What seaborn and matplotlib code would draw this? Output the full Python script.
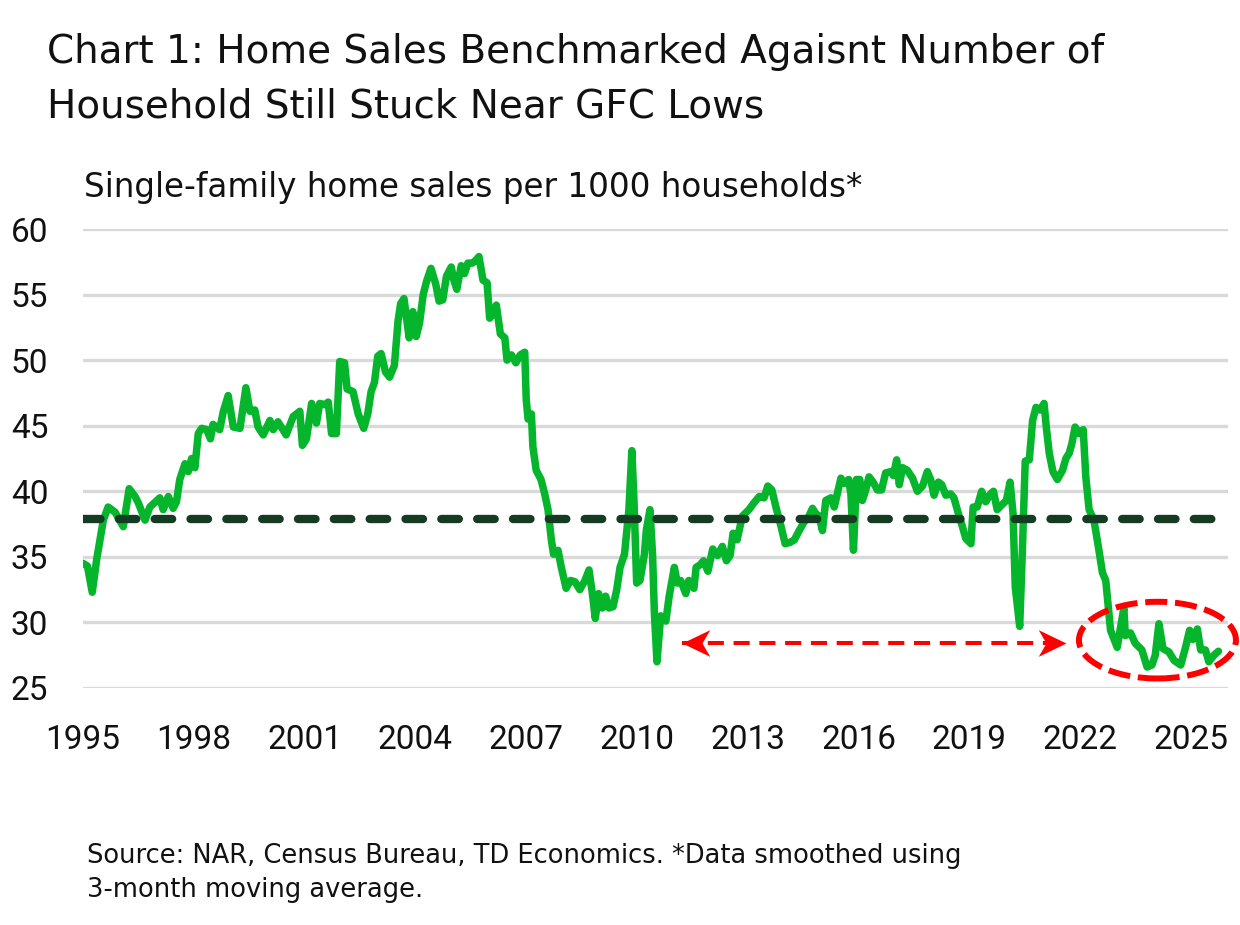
import numpy as np
import pandas as pd
import matplotlib
matplotlib.use("Agg")
import matplotlib.pyplot as plt
import seaborn as sns
from matplotlib.patches import Ellipse
from matplotlib.path import Path

# ---------------- data ----------------
dates = [
    1995.00, 1995.12, 1995.25, 1995.37, 1995.55, 1995.68, 1995.87, 1996.09, 1996.25, 1996.41,
    1996.50, 1996.68, 1996.81, 1997.08, 1997.17, 1997.31, 1997.44, 1997.53, 1997.62, 1997.76,
    1997.85, 1997.94, 1998.03, 1998.12, 1998.21, 1998.35, 1998.45, 1998.52, 1998.70, 1998.80,
    1998.93, 1999.07, 1999.25, 1999.41, 1999.52, 1999.65, 1999.74, 1999.88, 2000.06, 2000.15,
    2000.28, 2000.50, 2000.69, 2000.87, 2000.94, 2001.05, 2001.19, 2001.32, 2001.41, 2001.55,
    2001.64, 2001.73, 2001.86, 2001.95, 2002.08, 2002.15, 2002.31, 2002.45, 2002.60, 2002.71,
    2002.80, 2002.89, 2002.98, 2003.07, 2003.19, 2003.30, 2003.43, 2003.53, 2003.60, 2003.69,
    2003.83, 2003.93, 2004.02, 2004.11, 2004.21, 2004.30, 2004.42, 2004.55, 2004.64, 2004.74,
    2004.84, 2004.97, 2005.03, 2005.12, 2005.24, 2005.33, 2005.42, 2005.54, 2005.63, 2005.72,
    2005.83, 2005.94, 2006.01, 2006.10, 2006.19, 2006.30, 2006.42, 2006.48, 2006.60, 2006.72,
    2006.84, 2006.96, 2007.00, 2007.05, 2007.14, 2007.18, 2007.27, 2007.40, 2007.50, 2007.59,
    2007.68, 2007.74, 2007.86, 2007.95, 2008.08, 2008.20, 2008.32, 2008.45, 2008.59, 2008.70,
    2008.79, 2008.87, 2008.96, 2009.06, 2009.15, 2009.24, 2009.35, 2009.45, 2009.54, 2009.66,
    2009.78, 2009.86, 2009.92, 2009.99, 2010.08, 2010.20, 2010.25, 2010.35, 2010.42, 2010.47,
    2010.54, 2010.64, 2010.78, 2010.87, 2011.01, 2011.09, 2011.18, 2011.32, 2011.40, 2011.54,
    2011.60, 2011.71, 2011.80, 2011.92, 2012.05, 2012.18, 2012.31, 2012.42, 2012.52, 2012.60,
    2012.71, 2012.85, 2013.03, 2013.16, 2013.31, 2013.44, 2013.54, 2013.65, 2013.76, 2013.90,
    2014.01, 2014.14, 2014.26, 2014.39, 2014.53, 2014.62, 2014.75, 2014.84, 2014.93, 2015.02,
    2015.11, 2015.25, 2015.34, 2015.52, 2015.61, 2015.73, 2015.79, 2015.86, 2015.94, 2016.03,
    2016.10, 2016.19, 2016.28, 2016.39, 2016.51, 2016.62, 2016.73, 2016.87, 2016.94, 2017.03,
    2017.10, 2017.19, 2017.32, 2017.46, 2017.59, 2017.73, 2017.86, 2017.95, 2018.04, 2018.16,
    2018.25, 2018.36, 2018.49, 2018.58, 2018.70, 2018.81, 2018.90, 2019.04, 2019.10, 2019.21,
    2019.33, 2019.44, 2019.57, 2019.65, 2019.75, 2019.89, 2020.00, 2020.10, 2020.18, 2020.24,
    2020.36, 2020.43, 2020.51, 2020.62, 2020.71, 2020.80, 2020.91, 2021.02, 2021.08, 2021.16,
    2021.26, 2021.38, 2021.52, 2021.61, 2021.70, 2021.77, 2021.86, 2021.97, 2022.08, 2022.15,
    2022.24, 2022.37, 2022.50, 2022.60, 2022.69, 2022.82, 2023.00, 2023.18, 2023.22, 2023.36,
    2023.49, 2023.67, 2023.81, 2023.94, 2024.03, 2024.13, 2024.24, 2024.40, 2024.54, 2024.72,
    2024.85, 2024.96, 2025.05, 2025.17, 2025.26, 2025.39, 2025.48, 2025.62, 2025.74,
]
sales_per_1000 = [
    34.5, 34.3, 32.3, 34.8, 37.8, 38.8, 38.4, 37.3, 40.2, 39.6,
    39.1, 37.8, 38.8, 39.5, 38.6, 39.6, 38.7, 39.2, 40.9, 42.1,
    41.5, 42.5, 41.8, 44.4, 44.8, 44.7, 44.0, 45.1, 44.7, 46.1,
    47.3, 44.9, 44.8, 47.9, 46.1, 46.2, 44.9, 44.3, 45.4, 44.7,
    45.3, 44.3, 45.7, 46.1, 43.5, 44.0, 46.7, 45.2, 46.7, 46.6,
    46.8, 44.4, 44.4, 49.9, 49.8, 47.8, 47.6, 45.9, 44.8, 45.9,
    47.6, 48.3, 50.3, 50.5, 49.1, 48.7, 49.6, 53.0, 54.3, 54.7,
    51.7, 53.7, 51.8, 52.8, 55.0, 56.0, 57.0, 55.8, 54.5, 54.6,
    56.4, 57.1, 56.2, 55.4, 57.2, 56.6, 57.4, 57.4, 57.6, 57.9,
    56.1, 55.9, 53.2, 53.5, 54.2, 52.0, 51.7, 50.0, 50.4, 49.8,
    50.4, 50.6, 47.0, 45.5, 45.9, 43.4, 41.6, 40.9, 39.8, 38.6,
    36.3, 35.2, 35.5, 34.2, 32.6, 33.2, 33.1, 32.5, 33.2, 34.0,
    32.2, 30.3, 32.2, 31.1, 32.0, 31.1, 31.2, 32.5, 34.2, 35.2,
    38.6, 43.1, 39.1, 33.0, 33.2, 35.2, 37.0, 38.6, 35.2, 30.7,
    27.0, 30.5, 30.1, 32.0, 34.2, 33.0, 33.2, 32.2, 33.2, 32.6,
    34.2, 34.4, 34.7, 33.9, 35.6, 35.1, 35.8, 34.7, 35.1, 36.8,
    36.3, 38.1, 38.6, 39.1, 39.6, 39.5, 40.4, 40.1, 38.8, 37.3,
    36.0, 36.1, 36.3, 37.0, 37.7, 37.9, 38.7, 38.3, 38.1, 37.0,
    39.3, 39.5, 38.8, 41.0, 40.6, 40.9, 39.8, 35.5, 40.9, 40.9,
    39.3, 40.1, 41.1, 40.7, 40.1, 40.1, 41.4, 41.5, 41.2, 42.4,
    40.5, 41.8, 41.6, 41.0, 40.0, 40.4, 41.5, 40.9, 39.7, 40.7,
    40.5, 39.7, 39.8, 39.5, 38.3, 37.3, 36.4, 36.0, 38.8, 38.8,
    40.0, 39.2, 39.8, 40.0, 38.6, 39.0, 39.3, 40.7, 38.3, 32.7,
    29.7, 35.2, 42.3, 42.4, 45.4, 46.4, 46.2, 46.7, 44.9, 42.9,
    41.5, 40.9, 41.6, 42.5, 42.9, 43.6, 44.9, 44.4, 44.7, 41.1,
    38.6, 37.8, 35.6, 33.8, 33.2, 29.4, 28.1, 31.1, 29.0, 29.2,
    28.4, 27.9, 26.6, 26.75, 27.5, 29.9, 28.0, 27.75, 27.1, 26.75,
    28.1, 29.4, 28.7, 29.5, 27.9, 27.9, 27.0, 27.5, 27.8,
]
average_level = 37.9
y_ticks = [25, 30, 35, 40, 45, 50, 55, 60]
x_ticks = [1995, 1998, 2001, 2004, 2007, 2010, 2013, 2016, 2019, 2022, 2025]
x_tick_labels = [str(t) for t in x_ticks]
arrow_x = [2011.22, 2021.61]
arrow_y = 28.4
ellipse_center = (2024.09, 28.65)
ellipse_width = 4.25
ellipse_height = 5.85

title_lines = ["Chart 1: Home Sales Benchmarked Agaisnt Number of",
               "Household Still Stuck Near GFC Lows"]
subtitle = "Single-family home sales per 1000 households*"
source_lines = ["Source: NAR, Census Bureau, TD Economics. *Data smoothed using",
                "3-month moving average."]

# ---------------- styling ----------------
GREEN = "#05B52B"
DARK = "#163B23"
RED = "#FF0000"
GRID = "#D9D9D9"
TEXT = "#111111"

sns.set_theme(style="white")
plt.rcParams['font.family'] = ['Roboto', 'DejaVu Sans']
WIDE = ['DejaVu Sans']

W, H = 1240, 925
fig = plt.figure(figsize=(W / 100, H / 100), dpi=100)
ax = fig.add_axes([83 / W, 1 - 688 / H, 1145 / W, 459 / H])

df = pd.DataFrame({"date": dates, "value": sales_per_1000})
sns.lineplot(data=df, x="date", y="value", ax=ax, color=GREEN, lw=5.4,
             solid_joinstyle="round", solid_capstyle="round", zorder=4)

# average dashed line
ax.plot([dates[0], dates[-1]], [average_level, average_level], color=DARK, lw=6,
        dashes=(2.1, 2.2), dash_capstyle="round", zorder=5)

# red dashed double arrow
ax.plot(arrow_x, [arrow_y, arrow_y], color=RED, lw=2.9, dashes=(4.0, 2.4), zorder=6)
head_r = Path([(0, 0), (-1, 0.48), (-0.72, 0), (-1, -0.48), (0, 0)],
              [Path.MOVETO, Path.LINETO, Path.LINETO, Path.LINETO, Path.CLOSEPOLY])
head_l = Path([(0, 0), (1, 0.48), (0.72, 0), (1, -0.48), (0, 0)],
              [Path.MOVETO, Path.LINETO, Path.LINETO, Path.LINETO, Path.CLOSEPOLY])
ax.plot([arrow_x[1]], [arrow_y], marker=head_r, markersize=40, color=RED, mew=0, zorder=7)
ax.plot([arrow_x[0]], [arrow_y], marker=head_l, markersize=40, color=RED, mew=0, zorder=7)

# red dashed ellipse
ax.add_patch(Ellipse(ellipse_center, ellipse_width, ellipse_height, fill=False,
                     edgecolor=RED, lw=4.3, linestyle=(0, (3.7, 1.3)), clip_on=False, zorder=8))

ax.set_xlim(1995, 2026)
ax.set_ylim(25, 60)
ax.set_yticks(y_ticks)
ax.set_xticks(x_ticks)
ax.set_xticklabels(x_tick_labels)
ax.grid(axis="y", color=GRID, lw=2.4)
ax.grid(axis="x", visible=False)
ax.set_axisbelow(True)
for s in ax.spines.values():
    s.set_visible(False)
ax.tick_params(axis="both", length=0, labelsize=24, colors=TEXT)
ax.tick_params(axis="y", pad=25)
ax.tick_params(axis="x", pad=26)
ax.set_xlabel("")
ax.set_ylabel("")

# texts
fig.text(47 / W, 1 - 63 / H, title_lines[0], fontsize=28, family=WIDE,
         va="baseline", ha="left", color=TEXT)
fig.text(47 / W, 1 - 117 / H, title_lines[1], fontsize=28, family=WIDE,
         va="baseline", ha="left", color=TEXT)
fig.text(84 / W, 1 - 197 / H, subtitle, fontsize=23.5, family=WIDE,
         va="baseline", ha="left", color=TEXT)
fig.text(87 / W, 1 - 863 / H, source_lines[0], fontsize=18.5, family=WIDE,
         va="baseline", ha="left", color=TEXT)
fig.text(87 / W, 1 - 897 / H, source_lines[1], fontsize=18.5, family=WIDE,
         va="baseline", ha="left", color=TEXT)

fig.savefig("out.png", dpi=100, facecolor="white")
